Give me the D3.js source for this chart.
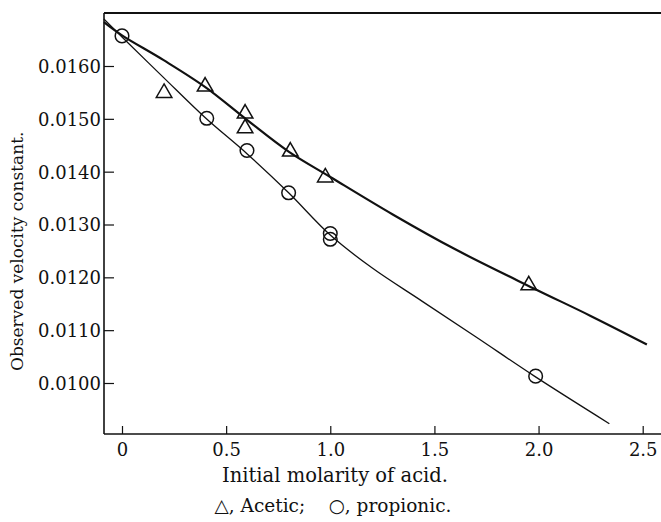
<!DOCTYPE html>
<html>
<head>
<meta charset="utf-8">
<script src="https://cdn.jsdelivr.net/npm/d3@7"></script>
<style>
  body { margin: 0; background: #fff; }
  svg { display: block; }
  text { font-family: "DejaVu Serif", "Liberation Serif", serif; fill: #111; }
</style>
</head>
<body>
<svg width="661" height="522"></svg>
<script>
(function (d3) {
  'use strict';

  // measured points
  const acetX = [0.202, 0.399, 0.591, 0.591, 0.808, 0.976, 1.953];
  const acetY = [0.01549, 0.01561, 0.01510, 0.01482, 0.01438, 0.01389, 0.01185];
  const propX = [0, 0.407, 0.60, 0.80, 1.0, 1.0, 1.986];
  const propY = [0.01657, 0.01501, 0.01440, 0.01360, 0.01283, 0.01272, 0.01013];

  // drawn curves
  const acetCurveX = [-0.087, 0, 0.2, 0.4, 0.6, 0.8, 1.0, 1.3, 1.6, 1.977, 2.25, 2.52];
  const acetCurveY = [0.01683, 0.01658, 0.01611, 0.01560, 0.01498, 0.01438, 0.01390, 0.01319, 0.01253, 0.01179, 0.01127, 0.01073];
  const propCurveX = [-0.087, 0, 0.2, 0.4, 0.6, 0.8, 1.0, 1.2, 1.44, 1.7, 1.98, 2.34];
  const propCurveY = [0.01689, 0.01655, 0.01578, 0.01502, 0.01434, 0.01360, 0.01280, 0.01218, 0.01155, 0.01087, 0.01013, 0.00923];

  const xTicks = [0, 0.5, 1.0, 1.5, 2.0, 2.5];
  const xTickLabels = ['0', '0.5', '1.0', '1.5', '2.0', '2.5'];
  const yTicks = [0.0100, 0.0110, 0.0120, 0.0130, 0.0140, 0.0150, 0.0160];

  const svg = d3.select('svg');
  const left = 104, top = 13, bottom = 434, right = 661;

  const x = d3.scaleLinear().domain([0, 2.5]).range([122, 642.7]);
  const y = d3.scaleLinear().domain([0.0100, 0.0160]).range([383, 66]);

  // frame: top rule, left axis, bottom axis
  svg.append('line')
    .attr('x1', left).attr('x2', right).attr('y1', top).attr('y2', top)
    .attr('stroke', '#111').attr('stroke-width', 2);

  const yAxis = d3.axisLeft(y).tickValues(yTicks).tickFormat(d3.format('.4f'))
    .tickSizeInner(-10).tickSizeOuter(0).tickPadding(3);
  const yG = svg.append('g').attr('transform', `translate(${left},0)`).call(yAxis);
  yG.select('.domain').remove();
  yG.append('line').attr('x1', 0).attr('x2', 0).attr('y1', top).attr('y2', bottom)
    .attr('stroke', '#111').attr('stroke-width', 1.6);

  const xAxis = d3.axisBottom(x).tickValues(xTicks)
    .tickFormat((d, i) => xTickLabels[i]).tickSizeInner(-8).tickSizeOuter(0).tickPadding(9);
  const xG = svg.append('g').attr('transform', `translate(0,${bottom})`).call(xAxis);
  xG.select('.domain').remove();
  xG.append('line').attr('x1', left).attr('x2', right).attr('y1', 0).attr('y2', 0)
    .attr('stroke', '#111').attr('stroke-width', 1.6);

  svg.selectAll('.tick line').attr('stroke', '#111').attr('stroke-width', 1.2);
  svg.selectAll('.tick text').attr('font-size', 18).attr('fill', '#111')
    .attr('font-family', '"DejaVu Serif", serif');
  yG.selectAll('.tick text').attr('dy', '0.36em');

  // curves
  const line = d3.line().x(d => x(d[0])).y(d => y(d[1])).curve(d3.curveCatmullRom);
  svg.append('path')
    .attr('d', line(acetCurveX.map((v, i) => [v, acetCurveY[i]])))
    .attr('fill', 'none').attr('stroke', '#111').attr('stroke-width', 2.2);
  svg.append('path')
    .attr('d', line(propCurveX.map((v, i) => [v, propCurveY[i]])))
    .attr('fill', 'none').attr('stroke', '#111').attr('stroke-width', 1.3);

  // markers
  const tri = d3.symbol().type(d3.symbolTriangle).size(105);
  svg.append('g').selectAll('path')
    .data(acetX.map((v, i) => [v, acetY[i]]))
    .join('path')
      .attr('d', tri)
      .attr('transform', d => `translate(${x(d[0])},${y(d[1])})`)
      .attr('fill', 'none').attr('stroke', '#111').attr('stroke-width', 1.5);

  svg.append('g').selectAll('circle')
    .data(propX.map((v, i) => [v, propY[i]]))
    .join('circle')
      .attr('cx', d => x(d[0]))
      .attr('cy', d => y(d[1]))
      .attr('r', 6.8)
      .attr('fill', 'none').attr('stroke', '#111').attr('stroke-width', 1.5);

  // titles
  svg.append('text')
    .attr('transform', `translate(23,371) rotate(-90)`)
    .attr('text-anchor', 'start')
    .attr('font-size', 17)
    .text('Observed velocity constant.');

  svg.append('text')
    .attr('x', 335).attr('y', 482)
    .attr('text-anchor', 'middle')
    .attr('font-size', 19.5)
    .text('Initial molarity of acid.');

  svg.append('text')
    .attr('x', 333).attr('y', 512)
    .attr('text-anchor', 'middle')
    .style('white-space', 'pre')
    .attr('font-size', 18.5)
    .text('\u25B3, Acetic;    \u25CB, propionic.');

}(d3));
</script>
</body>
</html>
